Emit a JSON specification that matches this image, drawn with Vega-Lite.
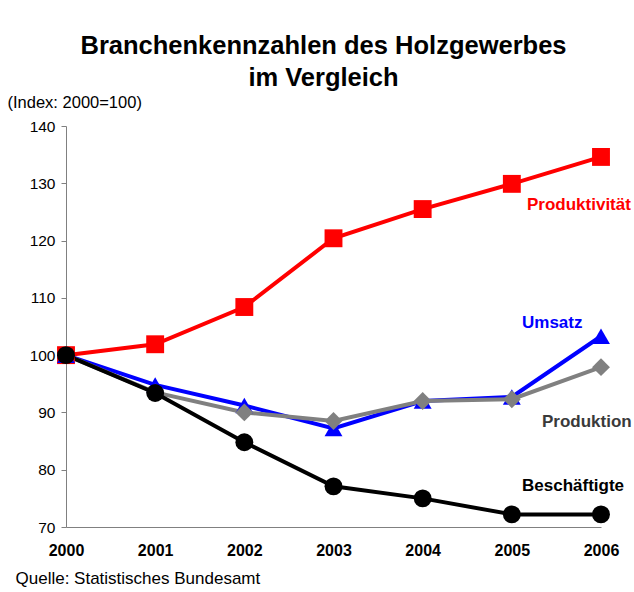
{
  "$schema": "https://vega.github.io/schema/vega-lite/v6.json",
  "width": 535,
  "height": 401,
  "autosize": {"type": "none"},
  "padding": {"left": 66, "top": 126, "right": 33, "bottom": 65},
  "background": "white",
  "config": {"view": {"stroke": null}, "font": "Liberation Sans"},
  "title": {
    "text": ["Branchenkennzahlen des Holzgewerbes", "im Vergleich"],
    "font": "Liberation Sans",
    "fontSize": 25.5,
    "fontWeight": "bold",
    "lineHeight": 32,
    "color": "black",
    "anchor": "middle",
    "frame": "group",
    "dx": -10,
    "offset": 3
  },
  "data": {
    "values": [
      {"year": 2000, "series": "Produktivität", "value": 100},
      {"year": 2001, "series": "Produktivität", "value": 101.9},
      {"year": 2002, "series": "Produktivität", "value": 108.4},
      {"year": 2003, "series": "Produktivität", "value": 120.4},
      {"year": 2004, "series": "Produktivität", "value": 125.5},
      {"year": 2005, "series": "Produktivität", "value": 129.9},
      {"year": 2006, "series": "Produktivität", "value": 134.6},
      {"year": 2000, "series": "Umsatz", "value": 100},
      {"year": 2001, "series": "Umsatz", "value": 94.8},
      {"year": 2002, "series": "Umsatz", "value": 91.2},
      {"year": 2003, "series": "Umsatz", "value": 87.2},
      {"year": 2004, "series": "Umsatz", "value": 92.0},
      {"year": 2005, "series": "Umsatz", "value": 92.7},
      {"year": 2006, "series": "Umsatz", "value": 103.3},
      {"year": 2000, "series": "Produktion", "value": 100},
      {"year": 2001, "series": "Produktion", "value": 93.5},
      {"year": 2002, "series": "Produktion", "value": 90.0},
      {"year": 2003, "series": "Produktion", "value": 88.5},
      {"year": 2004, "series": "Produktion", "value": 92.0},
      {"year": 2005, "series": "Produktion", "value": 92.3},
      {"year": 2006, "series": "Produktion", "value": 97.9},
      {"year": 2000, "series": "Beschäftigte", "value": 100},
      {"year": 2001, "series": "Beschäftigte", "value": 93.4},
      {"year": 2002, "series": "Beschäftigte", "value": 84.8},
      {"year": 2003, "series": "Beschäftigte", "value": 77.1},
      {"year": 2004, "series": "Beschäftigte", "value": 75.0},
      {"year": 2005, "series": "Beschäftigte", "value": 72.2},
      {"year": 2006, "series": "Beschäftigte", "value": 72.2}
    ]
  },
  "encoding": {
    "x": {
      "field": "year",
      "type": "quantitative",
      "scale": {"domain": [2000, 2006], "nice": false, "zero": false},
      "axis": {
        "values": [2000, 2001, 2002, 2003, 2004, 2005, 2006],
        "format": "d",
        "grid": false,
        "ticks": false,
        "domainColor": "#808080",
        "labelFont": "Liberation Sans",
        "labelFontSize": 16,
        "labelFontWeight": "bold",
        "labelColor": "black",
        "labelPadding": 15,
        "labelFlush": false,
        "title": "Quelle: Statistisches Bundesamt",
        "titleFont": "Liberation Sans",
        "titleFontSize": 17,
        "titleFontWeight": "normal",
        "titleColor": "black",
        "titleAlign": "left",
        "titleBaseline": "alphabetic",
        "titleX": -51,
        "titleY": 56
      }
    },
    "y": {
      "field": "value",
      "type": "quantitative",
      "scale": {"domain": [70, 140], "nice": false, "zero": false},
      "axis": {
        "values": [70, 80, 90, 100, 110, 120, 130, 140],
        "grid": false,
        "tickSize": 5,
        "tickColor": "#808080",
        "domainColor": "#808080",
        "labelFont": "Liberation Sans",
        "labelFontSize": 15.5,
        "labelColor": "black",
        "labelPadding": 6,
        "title": "(Index: 2000=100)",
        "titleFont": "Liberation Sans",
        "titleFontSize": 16.5,
        "titleFontWeight": "normal",
        "titleColor": "black",
        "titleAngle": 0,
        "titleAlign": "left",
        "titleBaseline": "alphabetic",
        "titleX": -59,
        "titleY": -19
      }
    }
  },
  "layer": [
    {
      "mark": {"type": "line", "strokeWidth": 4},
      "encoding": {
        "color": {
          "field": "series",
          "type": "nominal",
          "scale": {"domain": ["Produktivität", "Umsatz", "Produktion", "Beschäftigte"], "range": ["#ff0000", "#0000ff", "#808080", "#000000"]},
          "legend": null
        }
      }
    },
    {
      "mark": {"type": "point", "filled": true, "opacity": 1, "size": 320},
      "encoding": {
        "color": {"field": "series", "type": "nominal", "legend": null},
        "shape": {
          "field": "series",
          "type": "nominal",
          "scale": {"domain": ["Produktivität", "Umsatz", "Produktion", "Beschäftigte"], "range": ["square", "triangle-up", "diamond", "circle"]},
          "legend": null
        }
      }
    },
    {
      "transform": [{"filter": "datum.series == 'Produktivität' && datum.year == 2006"}],
      "mark": {"type": "text", "align": "left", "baseline": "alphabetic", "dx": -74, "dy": 53, "fontSize": 17, "fontWeight": "bold", "color": "#ff0000", "font": "Liberation Sans"},
      "encoding": {"text": {"field": "series"}}
    },
    {
      "transform": [{"filter": "datum.series == 'Umsatz' && datum.year == 2006"}],
      "mark": {"type": "text", "align": "left", "baseline": "alphabetic", "dx": -79, "dy": -8, "fontSize": 17, "fontWeight": "bold", "color": "#0000ff", "font": "Liberation Sans"},
      "encoding": {"text": {"field": "series"}}
    },
    {
      "transform": [{"filter": "datum.series == 'Produktion' && datum.year == 2006"}],
      "mark": {"type": "text", "align": "left", "baseline": "alphabetic", "dx": -59, "dy": 60, "fontSize": 17, "fontWeight": "bold", "color": "#3a3a3a", "font": "Liberation Sans"},
      "encoding": {"text": {"field": "series"}}
    },
    {
      "transform": [{"filter": "datum.series == 'Beschäftigte' && datum.year == 2006"}],
      "mark": {"type": "text", "align": "left", "baseline": "alphabetic", "dx": -79, "dy": -23, "fontSize": 17, "fontWeight": "bold", "color": "#000000", "font": "Liberation Sans"},
      "encoding": {"text": {"field": "series"}}
    }
  ]
}
